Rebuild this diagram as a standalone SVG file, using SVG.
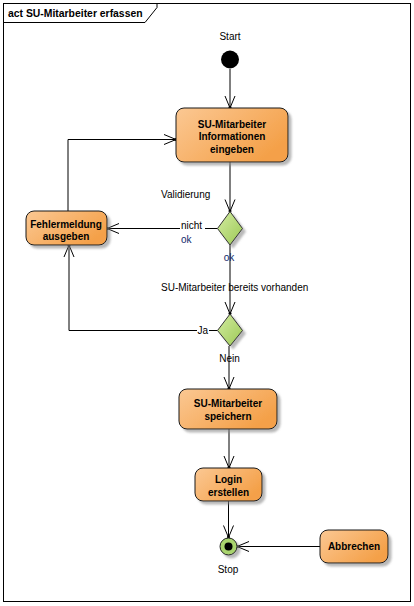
<svg xmlns="http://www.w3.org/2000/svg" width="414" height="606" viewBox="0 0 414 606">
<style>
text{font-family:"Liberation Sans",Arial,sans-serif;font-size:10px;fill:#000}
.b{font-weight:bold}
.c{text-anchor:middle}
.blue{fill:#10296a}
.act{fill:url(#og);stroke:#1a1a1a;stroke-width:1;filter:url(#sh)}
.dec{fill:url(#gg);stroke:#333;stroke-width:1;filter:url(#sh)}
.con{fill:none;stroke:#000;stroke-width:1;marker-end:url(#arr)}
</style>
<defs>
<linearGradient id="og" x1="0" y1="0" x2="1" y2="0.6">
<stop offset="0" stop-color="#fbc893"/>
<stop offset="1" stop-color="#f4a048"/>
</linearGradient>
<linearGradient id="gg" x1="0" y1="0" x2="1" y2="1">
<stop offset="0" stop-color="#d4eca2"/>
<stop offset="1" stop-color="#9cc955"/>
</linearGradient>
<filter id="sh" x="-20%" y="-20%" width="150%" height="150%">
<feDropShadow dx="3" dy="3" stdDeviation="0.8" flood-color="#888" flood-opacity="0.6"/>
</filter>
<marker id="arr" markerUnits="userSpaceOnUse" viewBox="-13 -6 15 12" markerWidth="15" markerHeight="12" refX="0" refY="0" orient="auto">
<path d="M-12,-5 L0,0 L-12,5" fill="none" stroke="#000" stroke-width="1"/>
<circle cx="-0.5" cy="0" r="1.5" fill="#000"/>
</marker>
</defs>
<rect width="414" height="606" fill="#fff"/>
<g id="frame">
<rect x="3.5" y="3.5" width="407" height="598" fill="none" stroke="#000" stroke-width="1"/>
<path d="M3.5,22.5 L145,22.5 L157,7.5 L157,3.5" fill="none" stroke="#000" stroke-width="1"/>
<text class="b" x="8" y="17" style="font-size:10.4px">act SU-Mitarbeiter erfassen</text>
</g>
<g id="connectors">
<path class="con" d="M230,69 L230,108"/>
<path class="con" d="M68,211 L68,139.5 L176,139.5"/>
<path class="con" d="M230,162 L230,211.5"/>
<path class="con" d="M217.5,228.5 L107,228.5"/>
<path class="con" d="M230,245 L230,314"/>
<path class="con" d="M217.5,330.5 L69,330.5 L69,245"/>
<path class="con" d="M229,346 L229,389"/>
<path class="con" d="M229,429 L229,468"/>
<path class="con" d="M228.5,501 L228.5,537.5"/>
<path class="con" d="M320,546.5 L237,546.5"/>
</g>
<g id="labels">
<text class="c" x="230" y="40">Start</text>
<text x="161" y="197.5">Validierung</text>
<rect x="180" y="220" width="25" height="12" fill="#fff"/>
<text x="181" y="229.3">nicht</text>
<text class="blue" x="181" y="243">ok</text>
<text class="c blue" x="229" y="261">ok</text>
<text x="161" y="291.3">SU-Mitarbeiter bereits vorhanden</text>
<rect x="197" y="324" width="12" height="12" fill="#fff"/>
<text x="197.5" y="333.6">Ja</text>
<text class="c" x="229.5" y="362.3">Nein</text>
<text class="c" x="228" y="572.6">Stop</text>
</g>
<g id="start">
<circle cx="230" cy="59.5" r="9" fill="#000"/>
</g>
<g id="n-info">
<rect class="act" x="176" y="108" width="112" height="54" rx="8"/>
<text class="b c" x="232" y="127.5">SU-Mitarbeiter</text>
<text class="b c" x="232" y="140">Informationen</text>
<text class="b c" x="232" y="152.5">eingeben</text>
</g>
<g id="n-fehler">
<rect class="act" x="26" y="211" width="81" height="34" rx="8"/>
<text class="b c" x="66" y="227.6">Fehlermeldung</text>
<text class="b c" x="66" y="240.3">ausgeben</text>
</g>
<g id="d-valid">
<path class="dec" d="M230,211.5 L242.5,228.5 L230,245 L217.5,228.5 Z"/>
</g>
<g id="d-exists">
<path class="dec" d="M230,314 L242.5,330.5 L230,346 L217.5,330.5 Z"/>
</g>
<g id="n-speichern">
<rect class="act" x="179" y="389" width="98" height="40" rx="8"/>
<text class="b c" x="228" y="407.3">SU-Mitarbeiter</text>
<text class="b c" x="228" y="419.6">speichern</text>
</g>
<g id="n-login">
<rect class="act" x="195" y="468" width="67" height="33" rx="8"/>
<text class="b c" x="228.5" y="483">Login</text>
<text class="b c" x="228.5" y="496">erstellen</text>
</g>
<g id="n-abbrechen">
<rect class="act" x="320" y="530" width="68" height="33" rx="8"/>
<text class="b c" x="354" y="550">Abbrechen</text>
</g>
<g id="stop">
<circle cx="228.5" cy="546.5" r="8.5" fill="#a9d46e" stroke="#222" stroke-width="1" filter="url(#sh)"/>
<circle cx="228.5" cy="546.5" r="4" fill="#000"/>
</g>
</svg>
